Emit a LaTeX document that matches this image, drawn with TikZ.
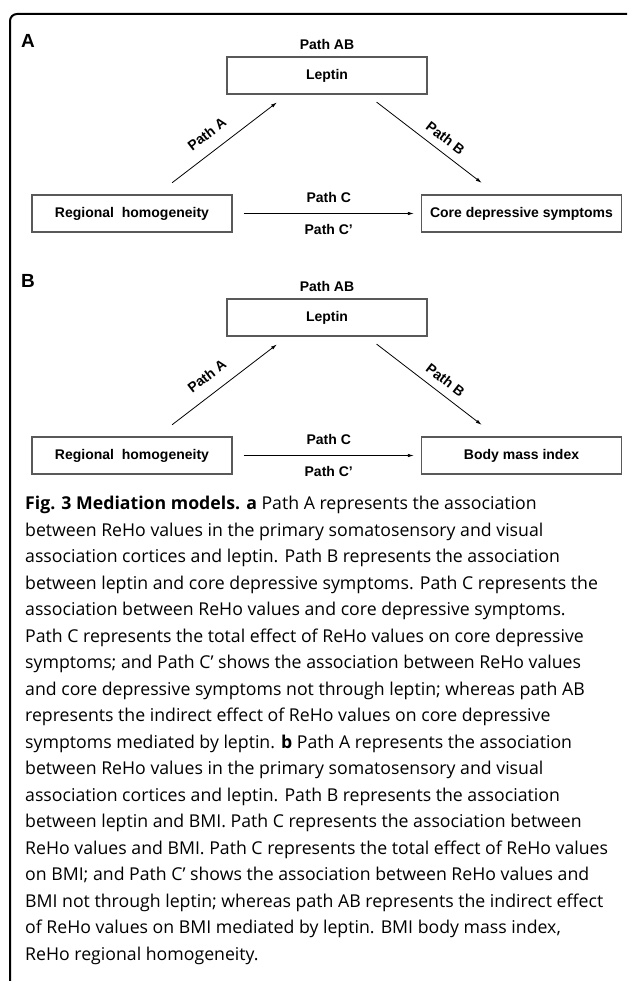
\documentclass[tikz,border=0pt]{standalone}
\usepackage{fontspec}
\setmainfont{Open Sans}
\newfontfamily\diagfont{Liberation Sans}
\usetikzlibrary{arrows.meta,positioning,calc}

\tikzset{
  box/.style={draw=black!65, line width=1.3pt, minimum width=200pt, minimum height=37pt,
    inner sep=0pt, font=\diagfont\bfseries\fontsize{14}{16}\selectfont},
  lbl/.style={font=\diagfont\bfseries\fontsize{14}{16}\selectfont, inner sep=0pt},
  arr/.style={-{Latex[length=6pt,width=3.5pt]}, line width=0.8pt},
  panel/.style={font=\diagfont\bfseries\fontsize{19}{21}\selectfont, inner sep=0pt},
}

\begin{document}
\begin{tikzpicture}[x=1pt,y=-1pt]
\useasboundingbox (0,0) rectangle (627,981);
% frame
\draw[line width=2pt, rounded corners=7pt] (627,14) -- (10,14) -- (10,981);

% panel A
\node[panel] (pa) at (28,41) {A};
\node[box] (lepa) at (327,75.5) {Leptin};
\node[lbl, above=7pt of lepa] (aba) {Path AB};
\node[box] (rha) at (132,213.5) {Regional\ \ homogeneity};
\node[box] (cda) at (521.5,213.5) {Core depressive symptoms};
\draw[arr, shorten <=50.6pt, shorten >=44.2pt] (rha.center) -- ($(lepa.center)+(-15,0)$)
  node[lbl, sloped, pos=.475, above=12pt] {Path A};
\draw[arr, shorten <=43.6pt, shorten >=50.2pt] ($(lepa.center)+(15,0)$) -- (cda.center)
  node[lbl, sloped, pos=.53, above=8pt] {Path B};
\draw[arr] ([xshift=11pt]rha.east) -- ([xshift=-7pt]cda.west)
  node[lbl, midway, above=10pt] {Path C}
  node[lbl, midway, below=10.5pt] {Path C’};

% panel B
\node[panel] (pb) at (28,281) {B};
\node[box] (lepb) at (327,317.5) {Leptin};
\node[lbl, above=7pt of lepb] (abb) {Path AB};
\node[box] (rhb) at (132,455.5) {Regional\ \ homogeneity};
\node[box] (bmib) at (521.5,455.5) {Body mass index};
\draw[arr, shorten <=50.6pt, shorten >=44.2pt] (rhb.center) -- ($(lepb.center)+(-15,0)$)
  node[lbl, sloped, pos=.475, above=12pt] {Path A};
\draw[arr, shorten <=43.6pt, shorten >=50.2pt] ($(lepb.center)+(15,0)$) -- (bmib.center)
  node[lbl, sloped, pos=.53, above=8pt] {Path B};
\draw[arr] ([xshift=11pt]rhb.east) -- ([xshift=-7pt]bmib.west)
  node[lbl, midway, above=10pt] {Path C}
  node[lbl, midway, below=10.5pt] {Path C’};

% caption
\node[anchor=north west, inner sep=0pt, align=left, font=\fontsize{17.7}{26.5}\selectfont] (cap) at (25,496) {%
{\bfseries Fig. 3 Mediation models. a} Path A represents the association\\
between ReHo values in the primary somatosensory and visual\\
association cortices and leptin. Path B represents the association\\
between leptin and core depressive symptoms. Path C represents the\\
association between ReHo values and core depressive symptoms.\\
Path C represents the total effect of ReHo values on core depressive\\
symptoms; and Path C’ shows the association between ReHo values\\
and core depressive symptoms not through leptin; whereas path AB\\
represents the indirect effect of ReHo values on core depressive\\
symptoms mediated by leptin. {\bfseries b} Path A represents the association\\
between ReHo values in the primary somatosensory and visual\\
association cortices and leptin. Path B represents the association\\
between leptin and BMI. Path C represents the association between\\
ReHo values and BMI. Path C represents the total effect of ReHo values\\
on BMI; and Path C’ shows the association between ReHo values and\\
BMI not through leptin; whereas path AB represents the indirect effect\\
of ReHo values on BMI mediated by leptin. BMI body mass index,\\
ReHo regional homogeneity.};
\end{tikzpicture}
\end{document}
